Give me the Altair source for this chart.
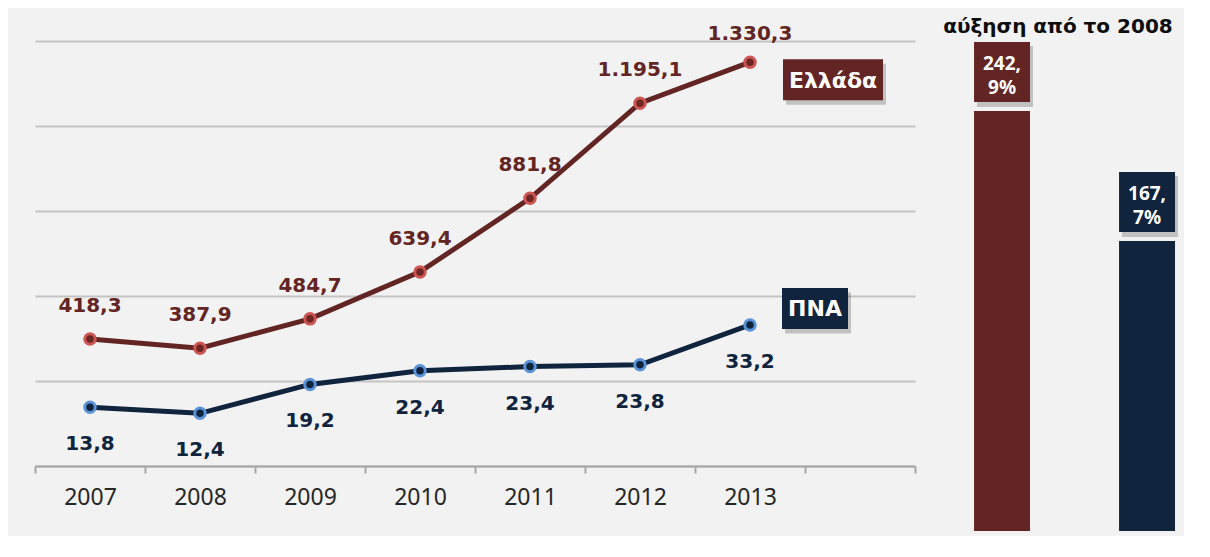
import altair as alt
import pandas as pd

# ---------------- data ----------------
YEARS = ["2007", "2008", "2009", "2010", "2011", "2012", "2013"]
GREECE = [418.3, 387.9, 484.7, 639.4, 881.8, 1195.1, 1330.3]
GREECE_LABELS = ["418,3", "387,9", "484,7", "639,4", "881,8", "1.195,1", "1.330,3"]
PNA = [13.8, 12.4, 19.2, 22.4, 23.4, 23.8, 33.2]
PNA_LABELS = ["13,8", "12,4", "19,2", "22,4", "23,4", "23,8", "33,2"]
SERIES = ["Ελλάδα", "ΠΝΑ"]
GROWTH = [242.9, 167.7]
GROWTH_LABELS = [["242,", "9%"], ["167,", "7%"]]
GROWTH_TITLE = "αύξηση από το 2008"

RED = "#632523"
NAVY = "#10243e"
FONT = "Noto Sans"
LFONT = "DejaVu Sans"

df = pd.DataFrame({"year": YEARS, "greece": GREECE, "glabel": GREECE_LABELS,
                   "pna": PNA, "plabel": PNA_LABELS})
last = df.iloc[[-1]].assign(gname=SERIES[0], pname=SERIES[1])

X_DOMAIN = YEARS + [" "]
x = alt.X("year:N",
          scale=alt.Scale(domain=X_DOMAIN, paddingInner=0, paddingOuter=0),
          axis=alt.Axis(title=None, labelAngle=0, tickBand="extent", tickSize=7,
                        tickWidth=2, tickColor="#a6a6a6", domainColor="#a6a6a6",
                        domainWidth=2, labelFont=FONT, labelFontSize=23,
                        labelColor="#262626", labelPadding=13, grid=False))

yg = alt.Y("greece:Q", scale=alt.Scale(domain=[0, 1400]), axis=None)
yp_axis = alt.Y("pna:Q", scale=alt.Scale(domain=[0, 100]),
                axis=alt.Axis(values=[0, 20, 40, 60, 80, 100], grid=True, labels=False,
                              ticks=False, domain=False, title=None,
                              gridColor="#c4c4c4", gridWidth=2))
yp = alt.Y("pna:Q", scale=alt.Scale(domain=[0, 100]), axis=None)

base = alt.Chart(df)

pna_line = base.mark_line(color=NAVY, strokeWidth=5).encode(x=x, y=yp_axis)
gr_line = base.mark_line(color=RED, strokeWidth=5).encode(x=x, y=yg)
gr_pts = base.mark_point(filled=True, shape="circle", size=110, fill="#6e2624",
                         stroke="#cd5652", strokeWidth=3, opacity=1).encode(x=x, y=yg)
pna_pts = base.mark_point(filled=True, shape="circle", size=110, fill=NAVY,
                          stroke="#5b93d8", strokeWidth=3, opacity=1).encode(x=x, y=yp)

lab_style = dict(font=LFONT, fontSize=20, fontWeight="bold", baseline="middle", align="center")
box_style = dict(font=LFONT, fontSize=22, fontWeight="bold", baseline="middle", align="center")
gr_lab_main = base.transform_filter(alt.datum.year != YEARS[-1]).mark_text(
    color=RED, dy=-33, **lab_style).encode(x=x, y=yg, text="glabel:N")
gr_lab_last = base.transform_filter(alt.datum.year == YEARS[-1]).mark_text(
    color=RED, dy=-28, **lab_style).encode(x=x, y=yg, text="glabel:N")
pna_lab = base.mark_text(color=NAVY, dy=37, **lab_style).encode(x=x, y=yp, text="plabel:N")

# series name boxes next to the last point
GR_BOX = "M-1,-0.41L1,-0.41L1,0.41L-1,0.41Z"
PNA_BOX = "M-1,-0.621L1,-0.621L1,0.621L-1,0.621Z"
lb = alt.Chart(last)
gr_box_sh = lb.mark_point(shape=GR_BOX, size=10000, filled=True, fill="#000000",
                          opacity=0.2, strokeWidth=0, xOffset=86, yOffset=22
                          ).encode(x=x, y=yg)
gr_box = lb.mark_point(shape=GR_BOX, size=10000, filled=True, fill=RED, opacity=1,
                       strokeWidth=0, xOffset=83, yOffset=17.5).encode(x=x, y=yg)
gr_box_t = lb.mark_text(color="white", xOffset=83, yOffset=18.5, **box_style
                        ).encode(x=x, y=yg, text="gname:N")
pna_box_sh = lb.mark_point(shape=PNA_BOX, size=4356, filled=True, fill="#000000",
                           opacity=0.2, strokeWidth=0, xOffset=68, yOffset=-12
                           ).encode(x=x, y=yp)
pna_box = lb.mark_point(shape=PNA_BOX, size=4356, filled=True, fill=NAVY, opacity=1,
                        strokeWidth=0, xOffset=65, yOffset=-16.5).encode(x=x, y=yp)
pna_box_t = lb.mark_text(color="white", xOffset=65, yOffset=-15.5, **box_style
                         ).encode(x=x, y=yp, text="pname:N")

left = alt.layer(
    pna_line, gr_line, gr_pts, pna_pts, gr_lab_main, gr_lab_last, pna_lab,
    gr_box_sh, gr_box, gr_box_t, pna_box_sh, pna_box, pna_box_t
).resolve_scale(y="independent").properties(width=880, height=425)

# ---------------- growth bars ----------------
bdf = pd.DataFrame({"series": SERIES, "growth": GROWTH, "label": GROWTH_LABELS})
bx = alt.X("series:N",
           scale=alt.Scale(domain=SERIES, paddingInner=0.614, paddingOuter=0.169, align=0.98),
           axis=None)
by = alt.Y("growth:Q", scale=alt.Scale(domain=[0, 283.4]), axis=None)
bcolor = alt.Color("series:N", scale=alt.Scale(domain=SERIES, range=[RED, NAVY]), legend=None)

bb = alt.Chart(bdf)
bars = bb.mark_bar().encode(x=bx, y=by, color=bcolor)
bshadow = bb.mark_rect(yOffset=-65, y2Offset=-4, xOffset=3, color="#000000",
                       opacity=0.2).encode(x=bx, y=by, y2="growth:Q")
bbox = bb.mark_rect(yOffset=-69, y2Offset=-9, opacity=1).encode(
    x=bx, y=by, y2="growth:Q", color=bcolor)
btext = bb.mark_text(color="white", font=FONT, fontSize=19, fontWeight="bold",
                     baseline="middle", align="center", dy=-47, lineHeight=24
                     ).encode(x=bx, y=by, text="label")

right = alt.layer(bars, bshadow, bbox, btext).properties(
    width=250, height=490,
    title=alt.Title(GROWTH_TITLE, font=LFONT, fontSize=20, fontWeight="bold",
                    color="#0d0d0d", anchor="middle", dx=7, offset=4))

chart = alt.hconcat(left, right, spacing=10).properties(
    background="#f2f2f2",
    padding={"left": 26, "top": 9, "right": 5, "bottom": 5},
).configure_view(stroke=None)

chart.save("out.html", embed_options={"renderer": "svg", "actions": False})
